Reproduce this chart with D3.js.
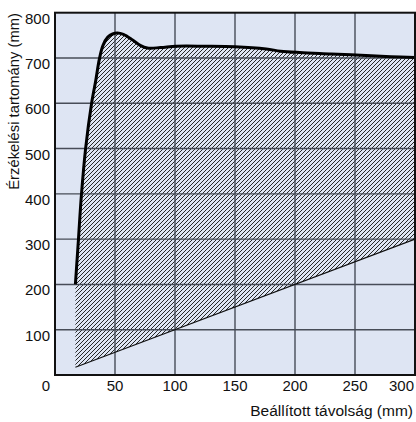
<!DOCTYPE html>
<html><head><meta charset="utf-8">
<script src="https://cdn.jsdelivr.net/npm/d3@7"></script>
<style>body{margin:0;background:#fff}svg{display:block}text{font-family:"Liberation Sans",Arial,sans-serif;fill:#111}</style>
</head><body>
<script>
const curveX = [17, 19.5, 22, 25.5, 30.5, 34, 37, 40, 44, 48, 52, 57, 65, 71, 77, 88, 101, 125, 150, 176, 188, 204, 230, 255, 280, 300];
const curveY = [200, 298, 397, 500, 600, 651, 698, 728, 746, 753, 755, 752, 739, 728, 722, 723, 726, 726, 725, 720, 715, 712, 709, 706, 703, 701];
const lowerX = [17, 300];
const lowerY = [17, 300];
const xTicks = [0, 50, 100, 150, 200, 250, 300];
const yTicks = [100, 200, 300, 400, 500, 600, 700, 800];
const xTitle = "Beállított távolság (mm)";
const yTitle = "Érzékelési tartomány (mm)";

const W = 416, H = 422;
const L = 55, R = 415, T = 12.7, B = 375;
const x = d3.scaleLinear().domain([0, 300]).range([L, R]);
const y = d3.scaleLinear().domain([0, 800]).range([B, T]);

const svg = d3.select("body").append("svg").attr("width", W).attr("height", H);
const defs = svg.append("defs");
const P = 4;
const pat = defs.append("pattern").attr("id", "hatch").attr("patternUnits", "userSpaceOnUse")
  .attr("width", P).attr("height", P);
pat.append("path").attr("d", `M-1,${P+1} L${P+1},-1 M-1,1 L1,-1 M${P-1},${P+1} L${P+1},${P-1}`)
  .attr("stroke", "#1e1e1e").attr("stroke-width", 0.95);

svg.append("rect").attr("x", L).attr("y", T).attr("width", R - L).attr("height", B - T).attr("fill", "#dee5f3");

const upper = curveX.map((v, i) => [v, curveY[i]]);
const lower = lowerX.map((v, i) => [v, lowerY[i]]);
const line = d3.line().x(d => x(d[0])).y(d => y(d[1])).curve(d3.curveCatmullRom.alpha(0.5));

const upPath = line(upper);
const lowPath = "L" + x(lower[1][0]) + "," + y(lower[1][1]) + "L" + x(lower[0][0]) + "," + y(lower[0][1]) + "Z";
svg.append("path").attr("d", upPath + lowPath).attr("fill", "url(#hatch)");

const g = svg.append("g");
g.selectAll(".vx").data(xTicks.filter(d => d > 0 && d < 300)).join("line")
  .attr("x1", d => x(d)).attr("x2", d => x(d)).attr("y1", T).attr("y2", B)
  .attr("stroke", "#474c57").attr("stroke-width", 1.4);
g.selectAll(".hy").data(yTicks.filter(d => d < 800)).join("line")
  .attr("y1", d => y(d)).attr("y2", d => y(d)).attr("x1", L).attr("x2", R)
  .attr("stroke", "#474c57").attr("stroke-width", 1.4);

svg.append("path").attr("d", d3.line().x(d => x(d[0])).y(d => y(d[1]))(lower))
  .attr("fill", "none").attr("stroke", "#111").attr("stroke-width", 1.1);
svg.append("path").attr("d", upPath).attr("fill", "none").attr("stroke", "#000").attr("stroke-width", 3);

svg.append("rect").attr("x", L).attr("y", T).attr("width", R - L).attr("height", B - T)
  .attr("fill", "none").attr("stroke", "#111").attr("stroke-width", 2);

svg.selectAll(".yl").data(yTicks).join("text")
  .attr("x", 50).attr("y", d => y(d) + 11).attr("text-anchor", "end")
  .attr("font-size", 15).text(d => d);
svg.selectAll(".xl").data(xTicks).join("text")
  .attr("x", d => d === 0 ? 46 : d === 300 ? 414 : x(d))
  .attr("y", 391).attr("text-anchor", d => d === 300 ? "end" : "middle")
  .attr("font-size", 15).text(d => d);

svg.append("text").attr("x", 413).attr("y", 416).attr("text-anchor", "end").attr("font-size", 15.5).text(xTitle);
svg.append("text").attr("transform", "translate(19,13) rotate(-90)").attr("text-anchor", "end")
  .attr("font-size", 14.8).text(yTitle);
</script>
</body></html>
